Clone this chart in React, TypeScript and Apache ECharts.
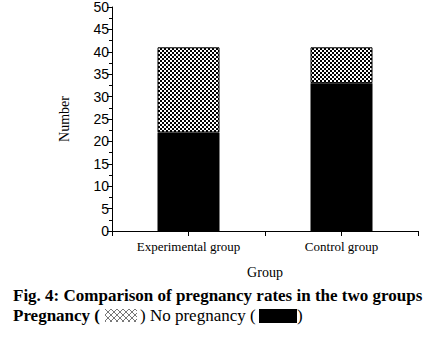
import React, { useEffect, useRef } from "react";
import * as echarts from "echarts";

const categories = ["Experimental group", "Control group"];
const noPregnancy = [22, 33];
const pregnancy = [19, 8];
const yTicks = { min: 0, max: 50, interval: 5 };

function makePattern(): HTMLCanvasElement {
  const c = document.createElement("canvas");
  c.width = 4;
  c.height = 4;
  const ctx = c.getContext("2d")!;
  ctx.fillStyle = "#ffffff";
  ctx.fillRect(0, 0, 4, 4);
  ctx.fillStyle = "#000000";
  ctx.fillRect(0, 0, 2, 2);
  ctx.fillRect(2, 2, 2, 2);
  return c;
}

function makeHatch(): HTMLCanvasElement {
  const c = document.createElement("canvas");
  c.width = 6;
  c.height = 6;
  const ctx = c.getContext("2d")!;
  ctx.fillStyle = "#ffffff";
  ctx.fillRect(0, 0, 6, 6);
  ctx.fillStyle = "#777777";
  for (let i = 0; i < 6; i++) {
    ctx.fillRect(i, i, 1, 1);
    ctx.fillRect(5 - i, i, 1, 1);
  }
  return c;
}

export default function App() {
  const ref = useRef<HTMLDivElement>(null);
  useEffect(() => {
    if (!ref.current) return;
    const chart = echarts.init(ref.current, null, { renderer: "svg" });
    const pat = makePattern();
    const hatch = makeHatch();
    const serif = "Liberation Serif";
    chart.setOption({
      animation: false,
      backgroundColor: "#ffffff",
      grid: { left: 112, top: 7, right: 29, bottom: 108, containLabel: false },
      xAxis: [
        {
          type: "category",
          data: categories,
          axisLine: { lineStyle: { color: "#000", width: 1 } },
          axisTick: { show: true, length: 5, lineStyle: { color: "#000" } },
          axisLabel: { color: "#000", fontFamily: serif, fontSize: 13, margin: 9 },
          name: "Group",
          nameLocation: "middle",
          nameGap: 34,
          nameTextStyle: { color: "#000", fontFamily: serif, fontSize: 14 },
        },
        {
          type: "category",
          data: categories,
          position: "bottom",
          axisLine: { show: false },
          axisTick: { show: true, alignWithLabel: true, length: 5, lineStyle: { color: "#000" } },
          axisLabel: { show: false },
        },
      ],
      yAxis: {
        type: "value",
        min: yTicks.min,
        max: yTicks.max,
        interval: yTicks.interval,
        axisLine: { show: true, lineStyle: { color: "#000", width: 1 } },
        axisTick: { show: true, length: 5, lineStyle: { color: "#000" } },
        minorTick: { show: true, splitNumber: 2, length: 3, lineStyle: { color: "#000" } },
        splitLine: { show: false },
        axisLabel: { color: "#000", fontFamily: "Liberation Sans", fontSize: 14, margin: 3 },
        name: "Number",
        nameLocation: "middle",
        nameGap: 41,
        nameTextStyle: { color: "#000", fontFamily: serif, fontSize: 14 },
      },
      series: [
        {
          name: "No pregnancy",
          type: "bar",
          stack: "total",
          barWidth: 62,
          data: noPregnancy,
          itemStyle: { color: "#000" },
        },
        {
          name: "Pregnancy",
          type: "bar",
          stack: "total",
          barWidth: 62,
          data: pregnancy,
          itemStyle: { color: { image: pat, repeat: "repeat" } as any, borderColor: "#000", borderWidth: 1 },
        },
      ],
      graphic: [
        {
          type: "text",
          left: 13,
          top: 287,
          style: {
            text: "Fig. 4: Comparison of pregnancy rates in the two groups",
            fontFamily: serif,
            fontWeight: "bold",
            fontSize: 17,
            fill: "#000",
          },
        },
        {
          type: "text",
          left: 13,
          top: 307,
          style: { text: "Pregnancy (", fontFamily: serif, fontWeight: "bold", fontSize: 17, fill: "#000" },
        },
        {
          type: "rect",
          shape: { x: 105, y: 309, width: 32, height: 13 },
          style: { fill: { image: hatch, repeat: "repeat" } as any },
        },
        {
          type: "text",
          left: 140,
          top: 307,
          style: { text: ") No pregnancy (", fontFamily: serif, fontSize: 17, fill: "#000" },
        },
        {
          type: "rect",
          shape: { x: 259, y: 309, width: 38, height: 14 },
          style: { fill: "#000" },
        },
        {
          type: "text",
          left: 297,
          top: 307,
          style: { text: ")", fontFamily: serif, fontSize: 17, fill: "#000" },
        },
      ],
    });
    return () => chart.dispose();
  }, []);
  return <div ref={ref} style={{ width: 447, height: 339, position: "absolute", left: 0, top: 0 }} />;
}
